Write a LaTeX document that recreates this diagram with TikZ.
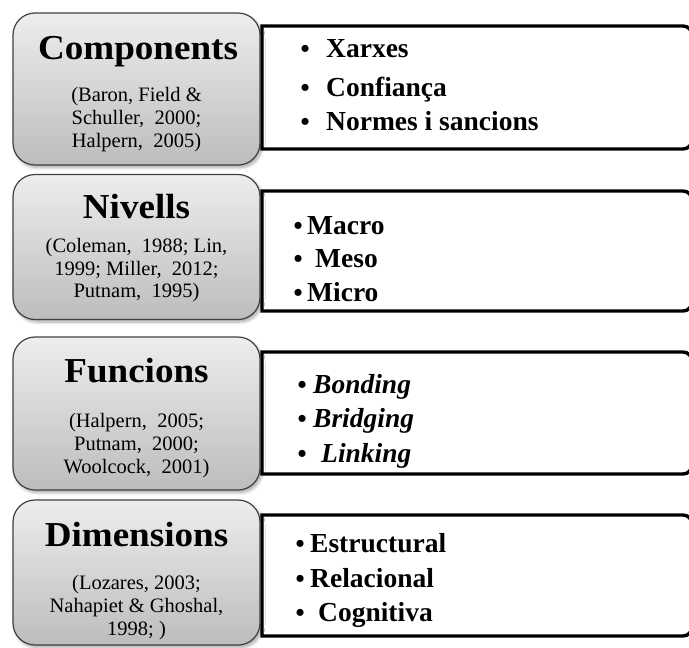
\documentclass[tikz,border=0pt]{standalone}
\usepackage{fontspec}
\setmainfont{Liberation Serif}
\usetikzlibrary{shadows.blur}

\tikzset{
  catbox/.style={draw=black!75, line width=1.2pt, rounded corners=22pt,
    top color=black!7, bottom color=black!26, inner sep=0pt,
    blur shadow={shadow xshift=2pt, shadow yshift=-2.5pt,
      shadow blur radius=3pt, shadow blur steps=6, shadow opacity=35}},
  listbox/.style={draw=black, line width=3.4pt, fill=white},
  cattitle/.style={anchor=base, font=\fontsize{35}{40}\selectfont\bfseries, inner sep=0pt},
  citeline/.style={anchor=base, font=\fontsize{20.5}{23}\selectfont, inner sep=0pt},
  bulletmark/.style={anchor=base east, font=\fontsize{26}{28}\selectfont\bfseries, inner sep=0pt},
  item/.style={anchor=base west, font=\fontsize{27.5}{30}\selectfont\bfseries, inner sep=0pt},
  itemit/.style={item, font=\fontsize{27.5}{30}\selectfont\bfseries\itshape}
}

% category heading, slightly widened
\newcommand{\headtext}[1]{\scalebox{1.06}[1]{#1}}

% one list panel: white box, square on the left, rounded on the right
\newcommand{\listpanel}[3]{%
  \coordinate (#1-nw) at (262,#2);
  \coordinate (#1-se) at (692,#3);
  \draw[listbox] (#1-nw) {[rounded corners=9pt] -- (692,#2) -- (#1-se)} -- (262,#3) -- cycle;
}

\begin{document}
\begin{tikzpicture}[x=1pt,y=-1pt]
\useasboundingbox (0,0) rectangle (689,648);

% ---------- list panels ----------
\listpanel{pa}{26}{149}
\listpanel{pb}{191}{311}
\listpanel{pc}{352}{474}
\listpanel{pd}{515}{636}

% ---------- category boxes ----------
\node[catbox, minimum width=247pt, minimum height=152pt] (ca) at (136.5,89) {};
\node[catbox, minimum width=247pt, minimum height=145pt] (cb) at (136.5,247) {};
\node[catbox, minimum width=247pt, minimum height=153pt] (cc) at (136.5,413.5) {};
\node[catbox, minimum width=247pt, minimum height=145pt] (cd) at (136.5,572.5) {};

% ---------- Components ----------
\node[cattitle] (ta) at (138,59) {\headtext{Components}};
\node[citeline] (ca1) at (136.5,101) {(Baron, Field \&};
\node[citeline] (ca2) at (136.5,124) {Schuller,\ \ 2000;};
\node[citeline] (ca3) at (136.5,147) {Halpern,\ \ 2005)};

\node[bulletmark] (ba1) at (310,57) {\textbullet};
\node[item] (ia1) at (326,57) {Xarxes};
\node[bulletmark] (ba2) at (310,96) {\textbullet};
\node[item] (ia2) at (326,96) {Confiança};
\node[bulletmark] (ba3) at (310,130) {\textbullet};
\node[item] (ia3) at (326,130) {Normes i sancions};

% ---------- Nivells ----------
\node[cattitle] (tb) at (136.5,218) {\headtext{Nivells}};
\node[citeline] (cb1) at (136.5,252) {(Coleman,\ \ 1988; Lin,};
\node[citeline] (cb2) at (136.5,275) {1999; Miller,\ \ 2012;};
\node[citeline] (cb3) at (136.5,297) {Putnam,\ \ 1995)};

\node[bulletmark] (bb1) at (303,234) {\textbullet};
\node[item] (ib1) at (307,234) {Macro};
\node[bulletmark] (bb2) at (303,267) {\textbullet};
\node[item] (ib2) at (315,267) {Meso};
\node[bulletmark] (bb3) at (303,301) {\textbullet};
\node[item] (ib3) at (307,301) {Micro};

% ---------- Funcions ----------
\node[cattitle] (tc) at (136.5,382) {\headtext{Funcions}};
\node[citeline] (cc1) at (136.5,427) {(Halpern,\ \ 2005;};
\node[citeline] (cc2) at (136.5,450) {Putnam,\ \ 2000;};
\node[citeline] (cc3) at (136.5,473) {Woolcock,\ \ 2001)};

\node[bulletmark] (bc1) at (307,393) {\textbullet};
\node[itemit] (ic1) at (313,393) {Bonding};
\node[bulletmark] (bc2) at (307,427) {\textbullet};
\node[itemit] (ic2) at (313,427) {Bridging};
\node[bulletmark] (bc3) at (307,462) {\textbullet};
\node[itemit] (ic3) at (321,462) {Linking};

% ---------- Dimensions ----------
\node[cattitle] (td) at (136.5,546) {\headtext{Dimensions}};
\node[citeline] (cd1) at (136.5,589) {(Lozares, 2003;};
\node[citeline] (cd2) at (136.5,612) {Nahapiet \& Ghoshal,};
\node[citeline] (cd3) at (136.5,635) {1998; )};

\node[bulletmark] (bd1) at (305,552) {\textbullet};
\node[item] (id1) at (310,552) {Estructural};
\node[bulletmark] (bd2) at (305,587) {\textbullet};
\node[item] (id2) at (310,587) {Relacional};
\node[bulletmark] (bd3) at (305,621) {\textbullet};
\node[item] (id3) at (318,621) {Cognitiva};
\end{tikzpicture}
\end{document}
